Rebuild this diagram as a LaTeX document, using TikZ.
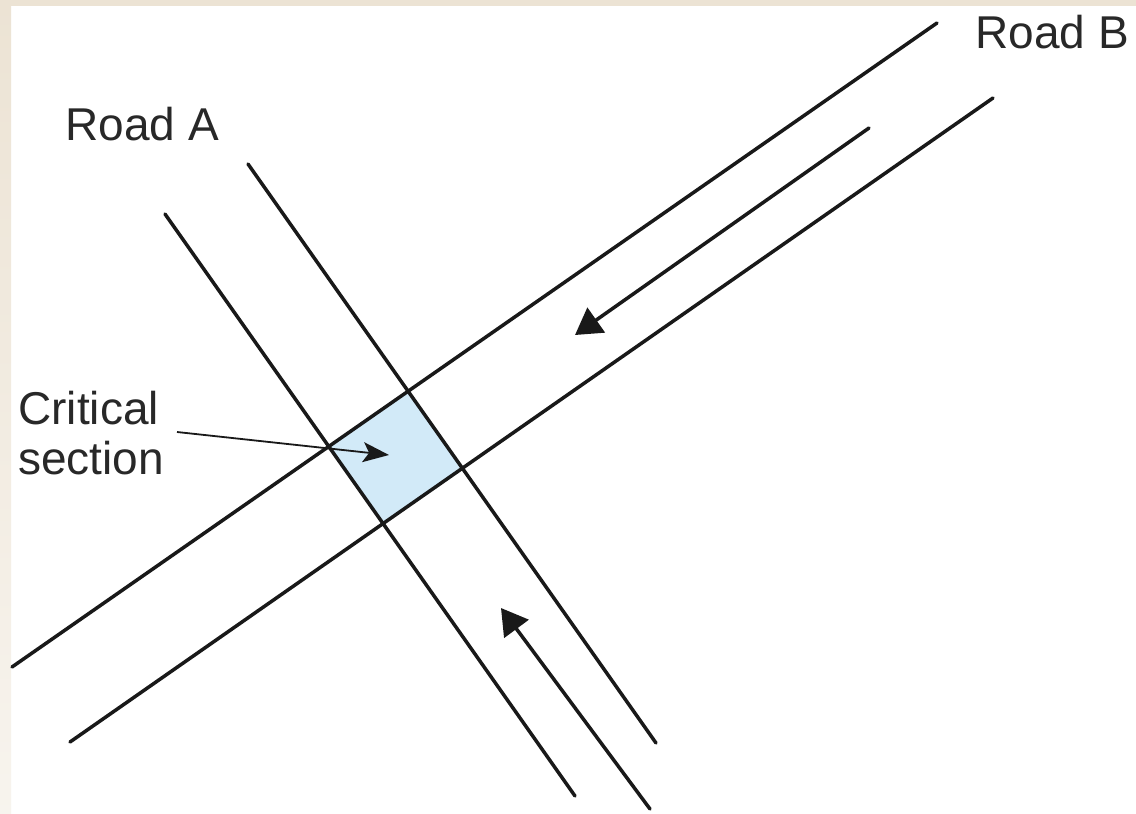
\documentclass[tikz,border=0pt]{standalone}
\usepackage{fontspec}
\setmainfont{Liberation Sans}
\usetikzlibrary{arrows.meta}
\definecolor{frame}{RGB}{236,227,212}
\definecolor{crit}{RGB}{210,234,248}
\definecolor{ink}{RGB}{25,25,25}
\definecolor{txt}{RGB}{40,40,40}
\tikzset{
  road/.style={draw=ink,line width=1.75pt,line cap=round},
  flow/.style={draw=ink,line width=1.75pt,line cap=round,-{Triangle[length=13pt,width=15pt]}},
  pointer/.style={draw=ink,line width=0.9pt,-{Stealth[length=13pt,width=10pt,inset=3pt]}},
  lbl/.style={font=\fontsize{23}{25}\selectfont,text=txt,inner sep=0pt}
}
\begin{document}
\begin{tikzpicture}[x=0.5pt,y=-0.5pt]
\useasboundingbox (0,0) rectangle (1136,814);
\fill[white] (0,0) rectangle (1136,814);
\shade[top color=frame,bottom color=white!60!frame] (0,0) rectangle (11,814);
\fill[frame] (0,0) rectangle (1136,6);
% road end points
\coordinate (a1s) at (165,214);
\coordinate (a1e) at (575,796);
\coordinate (a2s) at (248,164);
\coordinate (a2e) at (656,743);
\coordinate (b1s) at (937,23);
\coordinate (b1e) at (12,667);
\coordinate (b2s) at (993,98);
\coordinate (b2e) at (70,742);
% critical section corners
\coordinate (p11) at (intersection of a1s--a1e and b1s--b1e);
\coordinate (p21) at (intersection of a2s--a2e and b1s--b1e);
\coordinate (p22) at (intersection of a2s--a2e and b2s--b2e);
\coordinate (p12) at (intersection of a1s--a1e and b2s--b2e);
\fill[crit] (p11) -- (p21) -- (p22) -- (p12) -- cycle;
\draw[road] (a1s) -- (a1e);
\draw[road] (a2s) -- (a2e);
\draw[road] (b1s) -- (b1e);
\draw[road] (b2s) -- (b2e);
% flow arrows
\coordinate (fbs) at (869,128);
\coordinate (fbe) at (575,335);
\coordinate (fas) at (650,809);
\coordinate (fae) at (501,608);
\draw[flow] (fbs) -- (fbe);
\draw[flow] (fas) -- (fae);
% labels
\node[lbl,anchor=base west] (roadA) at (65,140) {Road A};
\node[lbl,anchor=base west] (roadB) at (975,48) {Road B};
\node[lbl,anchor=north west,align=left] (crl) at (18,391) {Critical\\section};
\coordinate (cps) at (177,432);
\coordinate (cpe) at (389,455);
\draw[pointer] (cps) -- (cpe);
\end{tikzpicture}
\end{document}
